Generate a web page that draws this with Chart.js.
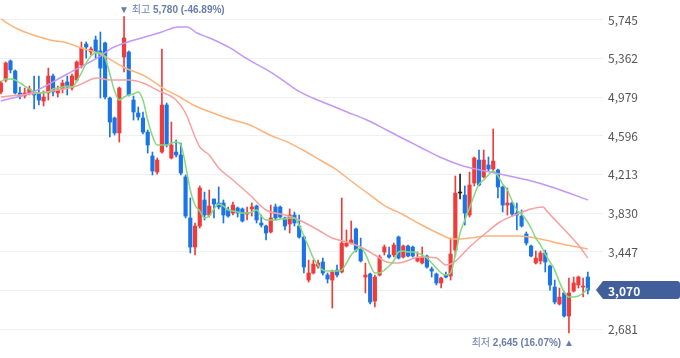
<!DOCTYPE html>
<html lang="ko">
<head>
<meta charset="utf-8">
<script src="https://cdn.jsdelivr.net/npm/chart.js@4.4.1/dist/chart.umd.min.js"></script>
<style>
  html, body { margin: 0; padding: 0; background: #fff; }
  #wrap { width: 680px; height: 358px; position: relative; }
</style>
</head>
<body>
<div id="wrap"><canvas id="chart"></canvas></div>
<script>
// daily candles, oldest first
const opens = [5032, 5150, 5339, 5240, 5022, 4992, 5022, 5022, 5022, 4942, 5022, 5190, 5022, 5061, 5131, 5071, 5150, 5299, 5507, 5428,
  5547, 5438, 5517, 4972, 4774, 4626, 5378, 5428, 4952, 4824, 4774, 4635, 4398, 4239, 4437, 4903, 4378, 4437, 4408, 4190,
  3784, 3496, 3704, 3962, 3813, 3972, 3932, 3932, 3863, 3833, 3883, 3873, 3823, 3873, 3902, 3734, 3704, 3645, 3893, 3893,
  3784, 3724, 3813, 3704, 3595, 3169, 3239, 3308, 3348, 3219, 3169, 3268, 3249, 3506, 3536, 3675, 3486, 3199, 3229, 2961,
  3219, 3447, 3417, 3417, 3595, 3397, 3506, 3496, 3358, 3338, 3407, 3278, 3229, 3140, 3219, 3209, 3466, 4031, 4011, 3813,
  4130, 4358, 4190, 4309, 4269, 4259, 4091, 3912, 3932, 3833, 3803, 3625, 3506, 3338, 3358, 3437, 3308, 3100, 2932, 3041,
  2813, 3060, 3120, 3100, 3199];
const highs = [5141, 5329, 5349, 5250, 5081, 5071, 5091, 5190, 5190, 5042, 5269, 5210, 5091, 5150, 5190, 5210, 5339, 5527, 5527, 5477,
  5586, 5626, 5527, 4982, 4784, 5081, 5780, 5438, 4992, 4883, 4834, 4655, 4437, 4378, 5458, 4923, 4734, 4556, 4526, 4210,
  3982, 3734, 4101, 4041, 4061, 3972, 4091, 3962, 3893, 3942, 3893, 3883, 3893, 3932, 3912, 3813, 3714, 3912, 3922, 3902,
  3794, 3873, 3843, 3813, 3605, 3367, 3367, 3367, 3387, 3239, 3268, 3318, 3982, 3665, 3754, 3685, 3585, 3338, 3239, 3219,
  3417, 3516, 3496, 3536, 3605, 3516, 3516, 3506, 3447, 3496, 3417, 3298, 3239, 3199, 3249, 3585, 4200, 4219, 4101, 4239,
  4388, 4457, 4457, 4388, 4665, 4269, 4101, 4081, 3942, 3932, 3863, 3645, 3516, 3457, 3457, 3466, 3318, 3169, 3090, 3051,
  3189, 3199, 3209, 3189, 3249];
const lows = [5012, 5131, 5220, 5012, 4962, 4972, 5002, 4863, 4903, 4893, 4952, 4992, 4982, 5022, 5002, 5051, 5131, 5269, 5368, 5398,
  5368, 4972, 4962, 4586, 4606, 4536, 5230, 4992, 4754, 4754, 4616, 4427, 4210, 4219, 4427, 4487, 4368, 4388, 4210, 3784,
  3437, 3417, 3684, 3764, 3793, 3784, 3873, 3734, 3793, 3813, 3793, 3744, 3764, 3803, 3734, 3694, 3566, 3635, 3764, 3784,
  3665, 3635, 3704, 3585, 3239, 3149, 3229, 3288, 3219, 3140, 2892, 3199, 3239, 3496, 3526, 3447, 3348, 3041, 2932, 2902,
  3209, 3417, 3387, 3397, 3377, 3387, 3397, 3397, 3348, 3328, 3288, 3199, 3120, 3090, 3189, 3169, 3407, 3972, 3714, 3793,
  4101, 4101, 4180, 4249, 4249, 3982, 3843, 3813, 3803, 3665, 3694, 3516, 3397, 3328, 3328, 3249, 3070, 2932, 2922, 2803,
  2645, 3051, 3090, 3001, 3031];
const closes = [5121, 5319, 5250, 5022, 4992, 5022, 5061, 5002, 4952, 4982, 5190, 5032, 5051, 5121, 5081, 5190, 5329, 5468, 5477, 5458,
  5428, 5269, 4982, 4734, 4626, 5071, 5567, 5002, 4834, 4784, 4635, 4507, 4249, 4358, 4903, 4507, 4507, 4408, 4229, 3803,
  3496, 3704, 4081, 3813, 3902, 3922, 3893, 3813, 3803, 3912, 3833, 3754, 3838, 3893, 3764, 3714, 3635, 3784, 3784, 3793,
  3704, 3813, 3734, 3595, 3298, 3239, 3328, 3338, 3239, 3179, 3249, 3219, 3536, 3536, 3566, 3466, 3358, 3219, 2951, 3199,
  3397, 3496, 3397, 3516, 3387, 3506, 3407, 3407, 3387, 3397, 3298, 3258, 3140, 3189, 3199, 3427, 4031, 4031, 3833, 4110,
  4378, 4110, 4358, 4269, 4348, 4091, 3912, 3932, 3823, 3813, 3704, 3536, 3407, 3387, 3437, 3348, 3120, 2951, 3001, 2813,
  3041, 3140, 3199, 3110, 3070];

// moving averages
const ma5 = [5131, 5160, 5160, 5150, 5121, 5091, 5061, 5032, 5022, 5022, 5032, 5061, 5071, 5081, 5091, 5081, 5141, 5220, 5319, 5388,
  5418, 5418, 5368, 5210, 5042, 4952, 4982, 5002, 5012, 5032, 4952, 4754, 4596, 4507, 4507, 4507, 4526, 4536, 4507, 4308,
  4061, 3912, 3853, 3784, 3803, 3873, 3922, 3902, 3863, 3853, 3843, 3833, 3833, 3843, 3863, 3803, 3764, 3764, 3764, 3774,
  3774, 3784, 3784, 3714, 3605, 3496, 3387, 3318, 3268, 3258, 3258, 3258, 3268, 3338, 3417, 3466, 3486, 3427, 3318, 3239,
  3239, 3268, 3308, 3358, 3447, 3457, 3447, 3447, 3437, 3417, 3387, 3338, 3288, 3239, 3219, 3239, 3417, 3635, 3764, 3883,
  4011, 4120, 4160, 4210, 4249, 4200, 4120, 4061, 3952, 3863, 3823, 3764, 3684, 3585, 3516, 3427, 3348, 3268, 3150, 3050,
  3001, 3001, 3011, 3041, 3090];
const ma20At = [0, 4, 8.2, 12, 16, 20.3, 23, 27, 30, 33, 37, 39, 41, 42, 44, 46, 49, 52.6, 56, 60, 63, 67, 70, 73, 76, 79, 81.5,
  84, 88.5, 92, 94, 95.5, 99, 102.7, 105.4, 108.6, 112, 114.5, 115.5, 118.5, 122, 124];
const ma20 = [4982, 5002, 5022, 5051, 5091, 5170, 5150, 5150, 5121, 5051, 4952, 4824, 4586, 4487, 4408, 4279, 4160, 4011, 3863, 3813,
  3764, 3665, 3585, 3546, 3496, 3417, 3348, 3338, 3397, 3387, 3318, 3338, 3496, 3645, 3744, 3813, 3873, 3893, 3843, 3694, 3516, 3387];
const ma60At = [0, 2, 4, 6.8, 10.4, 14, 17, 21, 25.8, 30.8, 34.2, 37.8, 40.6, 44.8, 49, 52.6, 56.8, 61, 63.8, 67.4, 71, 73.7, 78,
  81.5, 84.3, 88.5, 92.7, 95.5, 99, 102.7, 109.6, 114.9, 118.5, 124];
const ma60 = [5755, 5695, 5646, 5596, 5547, 5517, 5468, 5408, 5279, 5180, 5071, 4982, 4903, 4824, 4754, 4705, 4606, 4526, 4457, 4358,
  4259, 4160, 4011, 3893, 3833, 3724, 3625, 3575, 3585, 3605, 3605, 3566, 3526, 3477];
const ma120At = [0, 6.8, 14, 21, 23.5, 26.8, 30.4, 34, 37.4, 39.3, 41.4, 44.1, 48.4, 52, 56.2, 58.9, 62.5, 65.9, 69.5, 73.1, 77.3,
  81.5, 84.3, 88.5, 92.7, 97, 101.2, 105.4, 111.3, 117, 124];
const ma120 = [4942, 5032, 5210, 5388, 5468, 5527, 5576, 5626, 5676, 5676, 5616, 5567, 5468, 5359, 5250, 5170, 5051, 4972, 4903, 4834,
  4754, 4655, 4586, 4487, 4388, 4309, 4259, 4219, 4160, 4081, 3962];

const yTicks = [2681, 3064, 3447, 3830, 4213, 4596, 4979, 5362, 5745];

const colors = {
  up: '#f03b3b',
  down: '#1b74e6',
  flat: '#222222',
  ma5: '#84d97f',
  ma20: '#f7a0a0',
  ma60: '#fcb47c',
  ma120: '#c397f5',
  grid: '#eef0f3',
  tick: '#555',
  note: '#6a7eab',
  tag: '#425e9b'
};
const font = '"Noto Sans CJK KR", "Noto Sans", sans-serif';
const noteFont = '"Liberation Sans", "Noto Sans CJK KR", sans-serif';

function number(v) {
  return new Intl.NumberFormat('en-US').format(v);
}

function candleColor(i) {
  if (closes[i] > opens[i]) return colors.up;
  if (closes[i] < opens[i]) return colors.down;
  return colors.flat;
}

function pairs(xs, ys) {
  return xs.map((x, i) => ({ x, y: ys[i] }));
}

function maLine(label, data, color) {
  return {
    type: 'line',
    label,
    data,
    borderColor: color,
    borderWidth: 1.5,
    pointRadius: 0,
    cubicInterpolationMode: 'monotone',
    order: 0
  };
}

const idx = opens.map((_, i) => i);
const last = closes[closes.length - 1];
const hiIdx = highs.indexOf(Math.max(...highs));
const loIdx = lows.indexOf(Math.min(...lows));

// high / low notes and the last price tag
const notes = {
  id: 'notes',
  afterDatasetsDraw(chart) {
    const { ctx, scales } = chart;
    const hi = highs[hiIdx];
    const lo = lows[loIdx];
    const hiPct = ((last / hi - 1) * 100).toFixed(2);
    const loPct = ((last / lo - 1) * 100).toFixed(2);
    const thin = `10px ${noteFont}`;
    const bold = `bold 10px ${noteFont}`;
    ctx.save();
    ctx.textBaseline = 'middle';
    ctx.fillStyle = colors.note;

    let x = scales.x.getPixelForValue(hiIdx);
    ctx.font = thin;
    const a = '▼ 최고 ';
    x -= ctx.measureText('▼').width / 2;
    ctx.fillText(a, x, 10);
    x += ctx.measureText(a).width;
    ctx.font = bold;
    ctx.fillText(`${number(hi)} (${hiPct}%)`, x, 10);

    const tail = ' ▲';
    const head = '최저 ';
    const mid = `${number(lo)} (${loPct}%)`;
    ctx.font = thin;
    const r = scales.x.getPixelForValue(loIdx) + ctx.measureText('▲').width / 2;
    const tw = ctx.measureText(tail).width;
    const hw = ctx.measureText(head).width;
    ctx.font = bold;
    const mw = ctx.measureText(mid).width;
    const l = r - tw - mw - hw;
    ctx.fillText(mid, l + hw, 343);
    ctx.font = thin;
    ctx.fillText(head, l, 343);
    ctx.fillText(tail, r - tw, 343);
    ctx.restore();
  },
  afterDraw(chart) {
    const { ctx, chartArea, scales } = chart;
    const y = scales.y.getPixelForValue(last);
    const tip = chartArea.right - 7;
    const x0 = chartArea.right;
    const x1 = chart.width;
    const h = 9;
    ctx.save();
    ctx.fillStyle = colors.tag;
    ctx.beginPath();
    ctx.moveTo(tip, y);
    ctx.lineTo(x0, y - h);
    ctx.lineTo(x1 - 3, y - h);
    ctx.quadraticCurveTo(x1, y - h, x1, y - h + 3);
    ctx.lineTo(x1, y + h - 3);
    ctx.quadraticCurveTo(x1, y + h, x1 - 3, y + h);
    ctx.lineTo(x0, y + h);
    ctx.closePath();
    ctx.fill();
    ctx.fillStyle = '#fff';
    ctx.font = `bold 12px ${font}`;
    ctx.textBaseline = 'middle';
    ctx.fillText(number(last), x0 + 5, y + 1);
    ctx.restore();
  }
};

new Chart(document.getElementById('chart').getContext('2d'), {
  data: {
    datasets: [
      maLine('MA5', closes.map((_, i) => ({ x: i, y: ma5[i] })), colors.ma5),
      maLine('MA20', pairs(ma20At, ma20), colors.ma20),
      maLine('MA60', pairs(ma60At, ma60), colors.ma60),
      maLine('MA120', pairs(ma120At, ma120), colors.ma120),
      {
        type: 'bar',
        label: 'body',
        data: idx.map((i) => ({ x: i, y: [opens[i], closes[i]] })),
        backgroundColor: idx.map(candleColor),
        barThickness: 3.5,
        minBarLength: 1,
        grouped: false,
        order: 1
      },
      {
        type: 'bar',
        label: 'wick',
        data: idx.map((i) => ({ x: i, y: [lows[i], highs[i]] })),
        backgroundColor: idx.map(candleColor),
        barThickness: 1,
        grouped: false,
        order: 2
      }
    ]
  },
  options: {
    responsive: true,
    maintainAspectRatio: false,
    animation: false,
    events: [],
    layout: { padding: 0 },
    plugins: { legend: { display: false }, tooltip: { enabled: false } },
    scales: {
      x: {
        type: 'linear',
        display: false,
        offset: false,
        grid: { offset: false },
        min: -0.21,
        max: 127.2
      },
      y: {
        position: 'right',
        min: 2397,
        max: 5943,
        afterBuildTicks(s) {
          s.ticks = yTicks.map((v) => ({ value: v }));
        },
        afterFit(s) {
          s.width = 77;
          s.paddingTop = 0;
          s.paddingBottom = 0;
        },
        border: { display: false },
        grid: { color: colors.grid, drawTicks: false },
        ticks: {
          padding: 5,
          color: colors.tick,
          font: { size: 12, family: font },
          callback: (v) => (Math.abs(v - last) < 60 ? '' : number(v))
        }
      }
    }
  },
  plugins: [notes]
});
</script>
</body>
</html>
